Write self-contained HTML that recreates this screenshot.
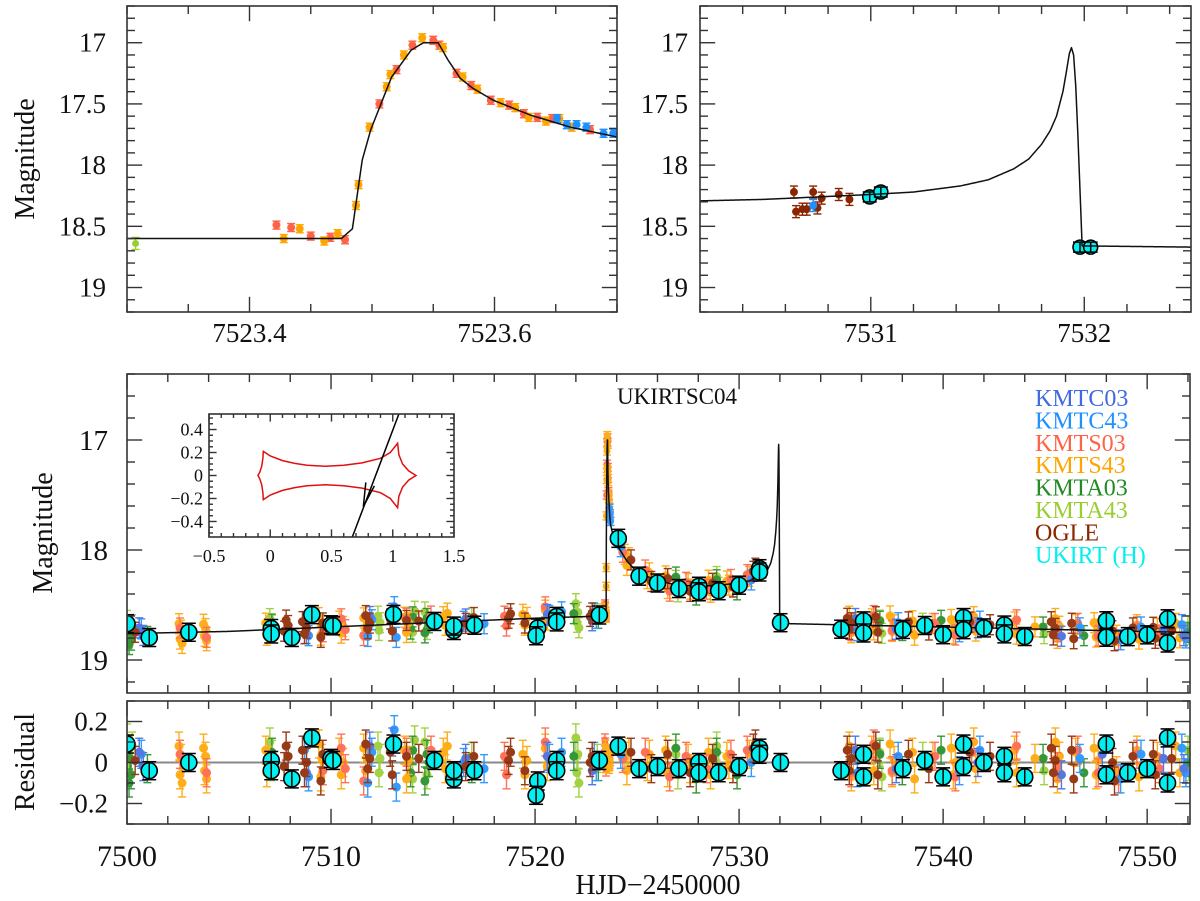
<!DOCTYPE html>
<html><head><meta charset="utf-8">
<style>
html,body{margin:0;padding:0;background:#fff;}
svg{display:block;font-family:"Liberation Serif","DejaVu Serif",serif;}
</style></head>
<body>
<svg id="fig" width="1200" height="901" viewBox="0 0 1200 901" xmlns="http://www.w3.org/2000/svg">
<defs>
<clipPath id="clipTL"><rect x="127" y="6" width="490" height="306"/></clipPath>
<clipPath id="clipTR"><rect x="700" y="6" width="491" height="306"/></clipPath>
<clipPath id="clipM"><rect x="127" y="374" width="1063" height="319"/></clipPath>
<clipPath id="clipR"><rect x="127" y="701" width="1063" height="123"/></clipPath>
<clipPath id="clipI"><rect x="209" y="414" width="245" height="123"/></clipPath>
</defs>
</svg>
<script>
// ---------- data ----------
const modelT=[7500,7505,7510,7515,7520,7523.3,7523.475,7523.484,7523.492,7523.499,7523.516,7523.532,7523.542,7523.554,7523.562,7523.572,7523.582,7523.599,7523.629,7523.662,7523.70,7523.8,7524,7524.5,7525,7526,7527,7528,7529,7530,7530.5,7531,7531.2,7531.42,7531.55,7531.67,7531.74,7531.8,7531.84,7531.87,7531.9,7531.915,7531.93,7531.94,7531.95,7531.96,7531.97,7531.99,7532.51,7540,7552.1];
const modelM=[18.76,18.74,18.70,18.66,18.62,18.60,18.60,18.52,17.96,17.71,17.28,17.06,17.0,17.0,17.14,17.29,17.37,17.47,17.59,17.69,17.77,17.85,17.95,18.1,18.2,18.28,18.32,18.33,18.32,18.3,18.28,18.24,18.22,18.17,18.12,18.03,17.95,17.83,17.72,17.6,17.4,17.25,17.09,17.04,17.1,17.35,17.75,18.66,18.67,18.7,18.75];

// peak-night data (top-left zoom)
const peakRedT=[7523.422,7523.434,7523.450,7523.466,7523.478,7523.506,7523.520,7523.533,7523.550,7523.555,7523.569,7523.581,7523.597,7523.612,7523.624,7523.635,7523.647,7523.678];
const peakRedM=[18.49,18.51,18.58,18.59,18.61,17.50,17.22,17.02,16.98,17.02,17.25,17.35,17.47,17.51,17.58,17.61,17.62,17.71];
const peakOrT=[7523.428,7523.441,7523.461,7523.472,7523.487,7523.489,7523.498,7523.512,7523.515,7523.526,7523.541,7523.558,7523.574,7523.586,7523.605,7523.617,7523.628,7523.642,7523.653,7523.663];
const peakOrM=[18.60,18.52,18.62,18.56,18.33,18.16,17.69,17.36,17.26,17.10,16.96,17.04,17.28,17.38,17.49,17.53,17.61,17.64,17.62,17.69];
const peakBlT=[7523.651,7523.659,7523.667,7523.675,7523.689,7523.697];
const peakBlM=[17.62,17.67,17.67,17.69,17.74,17.74];
const peakGrT=[7523.307];
const peakGrM=[18.64];

// second caustic zoom (top-right)
const trOgleT=[7530.64,7530.65,7530.68,7530.70,7530.73,7530.75,7530.77,7530.85,7530.90];
const trOgleM=[18.22,18.38,18.36,18.36,18.22,18.35,18.27,18.24,18.28];
const trBlueT=[7530.73];
const trBlueM=[18.33];
const trUkT=[7530.995,7531.047,7531.98,7532.03];
const trUkM=[18.26,18.22,18.67,18.67];

// full-season residuals per dataset (residual = model - mag)
const kmtc03T=[7500.6,7500.8,7508.8,7511.9,7513.0,7516.6,7520.6,7522.8,7535.7,7537.7,7541.7,7545.8,7547.8,7550.8,7551.8];
const kmtc03R=[0.05,-0.02,-0.05,0.08,0.1,0.02,0.03,-0.04,0.06,-0.03,0.0,-0.06,0.04,0.02,-0.03];
const kmtc43T=[7500.7,7508.7,7508.9,7511.8,7512.0,7513.1,7513.2,7516.5,7517.5,7520.7,7521.3,7522.9,7523.0,7524.2,7530.6,7535.8,7537.8,7540.8,7541.8,7546.7,7548.7,7549.7,7551.7,7551.9];
const kmtc43R=[0.04,0.06,-0.07,-0.1,0.05,0.16,-0.12,0.0,-0.03,0.02,0.05,0.03,-0.02,0.04,0.0,-0.05,0.03,-0.04,0.06,0.02,-0.08,0.04,0.07,-0.05];
const kmts03T=[7502.6,7503.9,7509.6,7510.5,7510.7,7511.6,7513.7,7514.9,7518.5,7518.6,7520.5,7524.3,7525.4,7526.6,7527.4,7528.4,7529.6,7530.4,7535.5,7536.6,7537.5,7539.6,7540.6,7541.4,7543.6,7545.6,7546.6,7547.6,7548.6,7549.5,7550.6];
const kmts03R=[0.04,-0.05,-0.04,0.07,-0.03,-0.09,0.05,0.06,0.03,-0.06,0.1,0.02,0.05,-0.07,0.03,-0.03,0.04,0.06,-0.05,0.09,-0.04,0.03,-0.07,0.05,0.08,-0.02,0.06,-0.05,-0.08,0.04,-0.03];
const kmts43T=[7502.55,7502.6,7502.65,7502.7,7503.75,7503.8,7503.85,7503.9,7506.8,7506.85,7506.9,7509.4,7509.5,7509.55,7510.4,7510.5,7510.6,7511.6,7511.7,7511.8,7513.6,7513.7,7513.8,7515.5,7515.6,7515.7,7519.4,7519.5,7519.6,7520.5,7520.6,7524.4,7524.5,7524.6,7525.5,7525.6,7526.4,7526.5,7527.5,7527.6,7528.5,7528.6,7529.4,7529.5,7530.5,7535.4,7535.5,7535.6,7536.5,7536.6,7537.4,7537.5,7537.6,7538.5,7538.6,7539.5,7540.4,7540.5,7540.6,7541.5,7541.6,7543.5,7543.6,7544.5,7545.5,7545.6,7545.7,7546.5,7547.4,7547.5,7547.6,7548.5,7549.5,7549.6,7550.5,7551.4,7551.6];
const kmts43R=[0.08,-0.06,0.02,-0.1,0.07,-0.04,0.03,-0.08,0.06,-0.05,0.01,0.09,-0.07,0.02,0.05,-0.06,0.0,0.07,-0.04,0.02,0.06,-0.08,0.01,0.05,-0.03,0.08,0.04,-0.06,0.01,0.07,-0.02,0.03,-0.04,0.05,-0.02,0.04,0.06,-0.05,0.02,-0.03,0.05,-0.06,0.03,-0.01,0.04,0.08,-0.07,0.02,0.06,-0.04,0.09,-0.05,0.01,0.05,-0.08,0.03,0.07,-0.06,0.0,0.1,-0.03,0.06,-0.05,0.02,0.1,-0.08,0.03,0.05,0.07,-0.06,0.01,-0.04,0.06,-0.07,0.03,0.08,-0.05];
const kmta03T=[7500.1,7500.15,7500.2,7501.0,7507.1,7513.9,7514.0,7514.6,7514.7,7514.8,7516.9,7521.9,7523.1,7526.9,7527.9,7528.9,7529.9,7536.9,7538.0,7539.9,7544.9,7546.9,7552.0];
const kmta03R=[-0.1,0.02,-0.06,-0.03,0.05,-0.05,0.06,-0.09,0.04,0.0,-0.03,0.03,-0.02,0.07,-0.08,0.05,-0.06,0.04,-0.04,0.06,0.02,-0.05,0.0];
const kmta43T=[7500.0,7500.05,7500.1,7500.25,7507.0,7507.05,7507.1,7512.3,7512.35,7512.4,7514.0,7514.1,7514.6,7514.7,7516.9,7522.0,7522.05,7522.1,7522.15,7523.05,7526.9,7527.0,7528.9,7529.0,7536.9,7537.0,7539.0,7544.95,7552.0,7552.05];
const kmta43R=[0.12,0.05,-0.04,0.08,0.1,-0.02,0.04,0.08,-0.05,0.02,-0.08,0.11,0.1,-0.06,0.03,0.12,-0.05,0.04,-0.1,0.02,0.04,-0.06,0.08,-0.02,0.05,-0.07,0.03,-0.04,0.06,-0.02];
const ogleT=[7500.4,7507.7,7507.8,7507.9,7508.6,7508.7,7508.8,7509.5,7509.6,7511.7,7511.8,7511.9,7512.9,7513.0,7513.7,7514.3,7516.6,7517.0,7518.7,7518.8,7519.5,7522.7,7522.8,7524.7,7525.7,7526.5,7527.6,7528.7,7529.7,7530.7,7530.8,7535.3,7535.4,7535.5,7536.7,7536.8,7538.3,7539.3,7541.3,7542.3,7545.3,7545.4,7545.5,7546.3,7546.4,7548.3,7548.4,7549.3,7550.3,7550.4,7551.2];
const ogleR=[0.01,-0.02,0.08,0.03,0.06,-0.05,0.0,-0.09,0.04,0.09,-0.03,0.02,0.05,-0.06,0.03,0.02,-0.02,0.03,0.01,0.05,-0.04,0.0,0.03,0.05,-0.03,0.04,-0.05,0.02,-0.03,0.07,0.09,0.06,-0.04,0.02,0.08,-0.06,0.04,-0.03,0.05,0.03,0.07,-0.05,0.01,0.06,-0.08,0.0,-0.09,0.03,0.04,-0.06,0.02];
const ukT=[7500.0,7501.09,7503.03,7507.07,7507.07,7508.08,7509.06,7510.0,7510.1,7513.06,7515.07,7516.02,7516.02,7517.03,7520.13,7520.05,7521.06,7521.06,7523.15,7524.08,7525.1,7526.0,7527.05,7528.03,7528.03,7529.0,7530.0,7531.0,7531.0,7532.03,7535.0,7536.1,7536.1,7538.03,7539.1,7540.0,7541.0,7541.0,7542.0,7543.0,7543.0,7544.0,7548.0,7548.0,7549.05,7550.0,7551.0,7551.0];
const ukR=[0.09,-0.04,0.0,0.01,-0.04,-0.08,0.12,0.02,0.01,0.09,0.01,-0.08,-0.04,-0.04,-0.09,-0.16,0.01,-0.04,0.01,0.08,-0.03,-0.02,-0.03,0.0,-0.05,-0.05,-0.02,0.07,0.04,0.0,-0.04,0.04,-0.07,-0.03,0.01,-0.07,0.09,-0.02,0.0,0.03,-0.05,-0.07,0.09,-0.06,-0.05,-0.03,0.12,-0.10];

// inset caustic (upper half; lower half mirrored)
const causticX=[-0.1,-0.085,-0.07,-0.06,-0.057,0.0,0.1,0.2,0.3,0.45,0.6,0.75,0.9,0.98,1.04,1.05,1.08,1.13,1.19];
const causticY=[0,0.03,0.08,0.15,0.21,0.17,0.13,0.105,0.09,0.08,0.09,0.11,0.15,0.2,0.28,0.18,0.1,0.04,0];
const trajX=[0.67,1.05];
const trajY=[-0.535,0.535];

const legendNames=["KMTC03","KMTC43","KMTS03","KMTS43","KMTA03","KMTA43","OGLE","UKIRT (H)"];
const legendColors=["#4169e1","#1e90ff","#ff6347","#ffa500","#228b22","#9acd32","#8b2500","#00f0f0"];

// ---------- helpers ----------
const NS='http://www.w3.org/2000/svg';
const svg=document.getElementById('fig');
function mk(tag,attrs,parent){const e=document.createElementNS(NS,tag);for(const k in attrs)e.setAttribute(k,attrs[k]);(parent||svg).appendChild(e);return e;}
function lin(d0,d1,p0,p1){return v=>p0+(v-d0)*(p1-p0)/(d1-d0);}
function model(t){if(t<=modelT[0])return modelM[0];for(let i=1;i<modelT.length;i++){if(t<=modelT[i]){const f=(t-modelT[i-1])/(modelT[i]-modelT[i-1]);return modelM[i-1]+f*(modelM[i]-modelM[i-1]);}}return modelM[modelM.length-1];}

function frame(p,name){
  const r=mk('rect',{x:p.x0,y:p.y0,width:p.x1-p.x0,height:p.y1-p.y0,fill:'none',stroke:'#333',"stroke-width":1.6});
  
  
}
function ticksX(p,minor,major,len,name){
  const g=mk('g',{stroke:'#333',"stroke-width":1.4});
  
  
  const s=Math.ceil(p.t0/minor-1e-6);
  for(let k=s;k*minor<=p.t1+1e-9;k++){const v=k*minor;const X=p.sx(v);const M=Math.abs(v/major-Math.round(v/major))<1e-6;const L=M?len*1.9:len;
    mk('line',{x1:X,x2:X,y1:p.y1,y2:p.y1-L},g);mk('line',{x1:X,x2:X,y1:p.y0,y2:p.y0+L},g);}
}
function ticksY(p,lo,hi,minor,major,len,name){
  const g=mk('g',{stroke:'#333',"stroke-width":1.4});
  
  
  const s=Math.ceil(lo/minor-1e-6);
  for(let k=s;k*minor<=hi+1e-9;k++){const v=k*minor;const Y=p.sy(v);const M=Math.abs(v/major-Math.round(v/major))<1e-6;const L=M?len*1.9:len;
    mk('line',{x1:p.x0,x2:p.x0+L,y1:Y,y2:Y},g);mk('line',{x1:p.x1,x2:p.x1-L,y1:Y,y2:Y},g);}
}
function label(x,y,txt,size,anchor,name,extra){
  const t=mk('text',Object.assign({x:x,y:y,"font-size":size,"text-anchor":anchor||'middle',fill:'#111'},extra||{}));
  t.textContent=txt;
  
  
  return t;
}
function dots(g,p,T,V,color,r,err,toY){
  for(let i=0;i<T.length;i++){
    const X=p.sx(T[i]),Y=toY(i);
    const e=mk('g',{},g);
    
    
    const ey=err;
    mk('line',{x1:X,x2:X,y1:Y-ey,y2:Y+ey,stroke:color,"stroke-width":1.4},e);
    mk('line',{x1:X-4,x2:X+4,y1:Y-ey,y2:Y-ey,stroke:color,"stroke-width":1.4},e);
    mk('line',{x1:X-4,x2:X+4,y1:Y+ey,y2:Y+ey,stroke:color,"stroke-width":1.4},e);
    mk('circle',{cx:X,cy:Y,r:r,fill:color},e);
  }
}
function ukDots(g,p,T,toY,r,err){
  for(let i=0;i<T.length;i++){
    const X=p.sx(T[i]),Y=toY(i);
    const e=mk('g',{},g);
    
    
    mk('circle',{cx:X,cy:Y,r:r,fill:'#00f0f0',stroke:'#000',"stroke-width":1.6},e);
    mk('line',{x1:X,x2:X,y1:Y-err,y2:Y+err,stroke:'#000',"stroke-width":1.5},e);
    mk('line',{x1:X-7,x2:X+7,y1:Y-err,y2:Y-err,stroke:'#000',"stroke-width":1.5},e);
    mk('line',{x1:X-7,x2:X+7,y1:Y+err,y2:Y+err,stroke:'#000',"stroke-width":1.5},e);
  }
}
function modelLine(p,clip,t0,t1,n,name,fn,color,w){
  let pts=[];const ts=new Set();
  for(let i=0;i<=n;i++)ts.add(t0+(t1-t0)*i/n);
  modelT.forEach(t=>{if(t>=t0&&t<=t1)ts.add(t);});
  [...ts].sort((a,b)=>a-b).forEach(t=>pts.push(p.sx(t).toFixed(2)+','+fn(t).toFixed(2)));
  const l=mk('polyline',{points:pts.join(' '),fill:'none',stroke:color,"stroke-width":w,"clip-path":'url(#'+clip+')',"stroke-linejoin":'round'});
  
  
}

// ---------- panels ----------
const TL={x0:127,x1:617,y0:6,y1:312,t0:7523.3,t1:7523.7};TL.sx=lin(TL.t0,TL.t1,TL.x0,TL.x1);TL.sy=lin(16.7,19.2,TL.y0,TL.y1);
const TR={x0:700,x1:1191,y0:6,y1:312,t0:7530.2,t1:7532.5};TR.sx=lin(TR.t0,TR.t1,TR.x0,TR.x1);TR.sy=lin(16.7,19.2,TR.y0,TR.y1);
const MN={x0:127,x1:1190,y0:374,y1:693,t0:7500,t1:7552.1};MN.sx=lin(MN.t0,MN.t1,MN.x0,MN.x1);MN.sy=lin(16.4,19.3,MN.y0,MN.y1);
const RS={x0:127,x1:1190,y0:701,y1:824,t0:7500,t1:7552.1};RS.sx=MN.sx;RS.sy=lin(0.3,-0.3,RS.y0,RS.y1);
const IN={x0:209,x1:454,y0:414,y1:537,t0:-0.5,t1:1.5};IN.sx=lin(-0.5,1.5,IN.x0,IN.x1);IN.sy=lin(0.535,-0.535,IN.y0,IN.y1);

// top-left
(function(){
  const g=mk('g',{"clip-path":'url(#clipTL)'});
  
  
  modelLine(TL,'clipTL',TL.t0,TL.t1,200,'first-caustic-model-line',t=>TL.sy(model(t)),'#111',1.5);
  dots(g,TL,peakGrT,peakGrM,'#9acd32',3.5,6,i=>TL.sy(peakGrM[i]));
  dots(g,TL,peakRedT,peakRedM,'#ff6347',4,4,i=>TL.sy(peakRedM[i]));
  dots(g,TL,peakOrT,peakOrM,'#ffa500',4,4,i=>TL.sy(peakOrM[i]));
  dots(g,TL,peakBlT,peakBlM,'#1e90ff',4,4,i=>TL.sy(peakBlM[i]));
  frame(TL,'first-caustic-panel');
  ticksX(TL,0.05,0.2,8,'first-caustic');
  ticksY(TL,16.7,19.2,0.1,0.5,8,'first-caustic');
  [17,17.5,18,18.5,19].forEach(v=>label(106,TL.sy(v)+9,String(v),27,'end','first-caustic-y-tick-label'));
  [7523.4,7523.6].forEach(v=>label(TL.sx(v),342,v.toFixed(1),27,'middle','first-caustic-x-tick-label'));
  label(0,0,'Magnitude',28,'middle','top-y-axis-title',{transform:'translate(34,159) rotate(-90)'});
})();

// top-right
(function(){
  const g=mk('g',{"clip-path":'url(#clipTR)'});
  
  
  modelLine(TR,'clipTR',TR.t0,TR.t1,400,'second-caustic-model-line',t=>TR.sy(model(t)),'#111',1.5);
  dots(g,TR,trOgleT,trOgleM,'#8b2500',4,6,i=>TR.sy(trOgleM[i]));
  dots(g,TR,trBlueT,trBlueM,'#1e90ff',4,6,i=>TR.sy(trBlueM[i]));
  ukDots(g,TR,trUkT,i=>TR.sy(trUkM[i]),7,5);
  frame(TR,'second-caustic-panel');
  ticksX(TR,0.2,1,8,'second-caustic');
  ticksY(TR,16.7,19.2,0.1,0.5,8,'second-caustic');
  [17,17.5,18,18.5,19].forEach(v=>label(688,TR.sy(v)+9,String(v),27,'end','second-caustic-y-tick-label'));
  [7531,7532].forEach(v=>label(TR.sx(v),342,String(v),27,'middle','second-caustic-x-tick-label'));
})();

// main + residuals
const sets=[
  {T:kmta43T,R:kmta43R,c:'#9acd32'},{T:kmta03T,R:kmta03R,c:'#228b22'},
  {T:kmts43T,R:kmts43R,c:'#ffa500'},{T:kmts03T,R:kmts03R,c:'#ff6347'},
  {T:kmtc43T,R:kmtc43R,c:'#1e90ff'},{T:kmtc03T,R:kmtc03R,c:'#4169e1'},
  {T:ogleT,R:ogleR,c:'#8b2500'}
];
(function(){
  const g=mk('g',{"clip-path":'url(#clipM)',opacity:0.9});
  
  
  sets.forEach(s=>dots(g,MN,s.T,s.R,s.c,4.5,10,i=>MN.sy(model(s.T[i])-s.R[i])));
  dots(g,MN,peakRedT,peakRedM,'#ff6347',3.5,4,i=>MN.sy(peakRedM[i]));
  dots(g,MN,peakOrT,peakOrM,'#ffa500',3.5,4,i=>MN.sy(peakOrM[i]));
  dots(g,MN,peakBlT,peakBlM,'#1e90ff',3.5,4,i=>MN.sy(peakBlM[i]));
  modelLine(MN,'clipM',MN.t0,MN.t1,1500,'main-model-line',t=>MN.sy(model(t)),'#111',1.5);
  const g2=mk('g',{"clip-path":'url(#clipM)'});
  
  
  ukDots(g2,MN,ukT,i=>MN.sy(model(ukT[i])-ukR[i]),8,9);
  frame(MN,'main-panel');
  ticksX(MN,2,10,8,'main');
  ticksY(MN,16.4,19.3,0.2,1,8,'main');
  [17,18,19].forEach(v=>label(108,MN.sy(v)+10,String(v),29,'end','main-y-tick-label'));
  label(0,0,'Magnitude',28,'middle','main-y-axis-title',{transform:'translate(52,533) rotate(-90)'});
  label(677,404,'UKIRTSC04',23,'middle','main-panel-title');
  legendNames.forEach((n,i)=>label(1035,406+i*22.4,n,24,'start','legend-entry-'+n.toLowerCase().replace(/[^a-z0-9]+/g,'-'),{fill:legendColors[i]}));

  const rg=mk('g',{"clip-path":'url(#clipR)'});
  
  
  const zl=mk('line',{x1:RS.x0,x2:RS.x1,y1:RS.sy(0),y2:RS.sy(0),stroke:'#888',"stroke-width":2},rg);
  
  
  const rg2=mk('g',{opacity:0.9},rg);
  sets.forEach(s=>dots(rg2,RS,s.T,s.R,s.c,4.5,14,i=>RS.sy(s.R[i])));
  dots(rg2,RS,peakRedT,peakRedM,'#ff6347',3.5,6,i=>RS.sy(model(peakRedT[i])-peakRedM[i]));
  dots(rg2,RS,peakOrT,peakOrM,'#ffa500',3.5,6,i=>RS.sy(model(peakOrT[i])-peakOrM[i]));
  ukDots(rg,RS,ukT,i=>RS.sy(ukR[i]),8,9);
  frame(RS,'residual-panel');
  ticksX(RS,2,10,8,'residual');
  ticksY(RS,-0.3,0.3,0.1,0.2,8,'residual');
  [[0.2,'0.2'],[0,'0'],[-0.2,'\u22120.2']].forEach(v=>label(108,RS.sy(v[0])+9,v[1],27,'end','residual-y-tick-label'));
  label(0,0,'Residual',28,'middle','residual-y-axis-title',{transform:'translate(34,762) rotate(-90)'});
  [7500,7510,7520,7530,7540,7550].forEach(v=>label(RS.sx(v),866,String(v),30,'middle','x-tick-label'));
  label(658,894,'HJD\u22122450000',28,'middle','x-axis-title');
})();

// inset
(function(){
  const bg=mk('rect',{x:IN.x0,y:IN.y0,width:IN.x1-IN.x0,height:IN.y1-IN.y0,fill:'#fff'});
  
  
  const g=mk('g',{"clip-path":'url(#clipI)'});
  
  
  let up=causticX.map((x,i)=>IN.sx(x).toFixed(1)+','+IN.sy(causticY[i]).toFixed(1));
  let dn=causticX.slice().reverse().map((x,i)=>IN.sx(x).toFixed(1)+','+IN.sy(-causticY[causticY.length-1-i]).toFixed(1));
  const c=mk('polygon',{points:up.concat(dn).join(' '),fill:'none',stroke:'#e01010',"stroke-width":1.5},g);
  
  
  const tr=mk('line',{x1:IN.sx(trajX[0]),y1:IN.sy(trajY[0]),x2:IN.sx(trajX[1]),y2:IN.sy(trajY[1]),stroke:'#000',"stroke-width":1.5},g);
  
  
  const ax=IN.sx(0.76),ay=IN.sy(-0.27);
  const ar=mk('path',{d:`M${IN.sx(0.78)},${IN.sy(-0.06)} L${ax},${ay} L${IN.sx(0.85)},${IN.sy(-0.09)}`,fill:'none',stroke:'#000',"stroke-width":1.5},g);
  
  
  frame(IN,'inset');
  ticksX(IN,0.1,0.5,4,'inset');
  ticksY(IN,-0.535,0.535,0.05,0.2,4,'inset');
  [[-0.5,'\u22120.5'],[0,'0'],[0.5,'0.5'],[1,'1'],[1.5,'1.5']].forEach(v=>label(IN.sx(v[0]),562,v[1],18,'middle','inset-x-tick-label'));
  [[0.4,'0.4'],[0.2,'0.2'],[0,'0'],[-0.2,'\u22120.2'],[-0.4,'\u22120.4']].forEach(v=>label(203,IN.sy(v[0])+6,v[1],18,'end','inset-y-tick-label'));
})();
</script>
</body></html>
